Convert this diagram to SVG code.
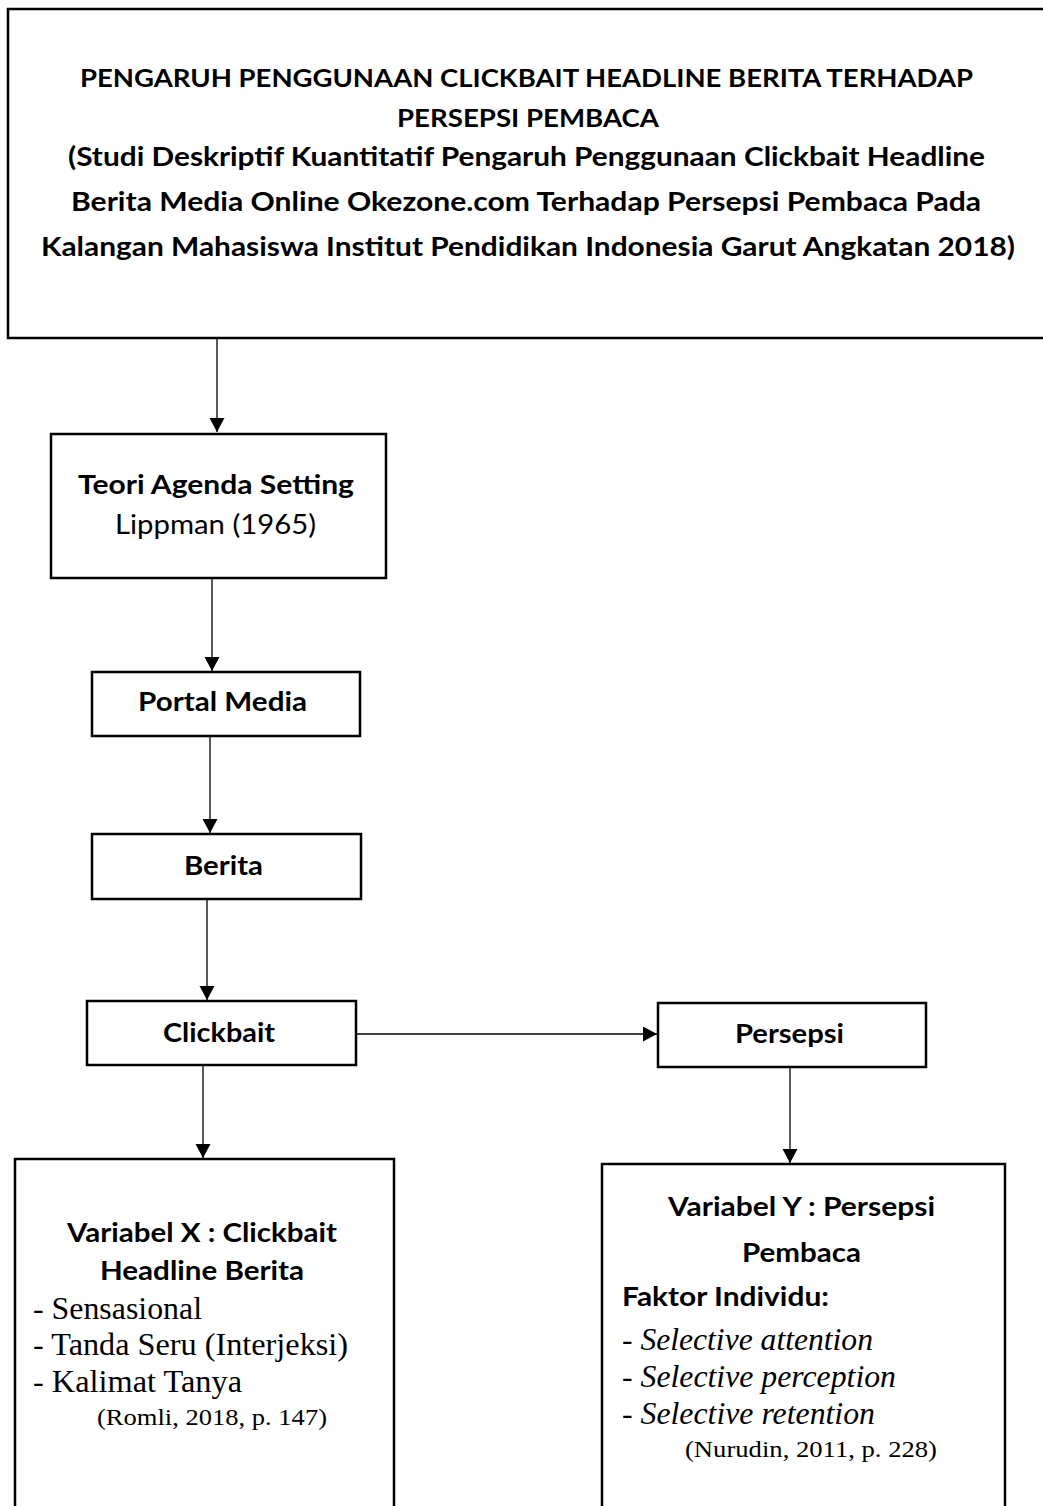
<svg xmlns="http://www.w3.org/2000/svg" width="1043" height="1506" viewBox="0 0 1043 1506">
<defs>
<style>
.box{fill:#fff;stroke:#000;stroke-width:2.5}
.con{stroke:#000;stroke-width:1.3;fill:none}
.b{font-family:Lato,"Open Sans","Liberation Sans",sans-serif;font-weight:bold;fill:#000}
.r{font-family:Lato,"Open Sans","Liberation Sans",sans-serif;font-weight:normal;fill:#000}
.s{font-family:"Liberation Serif","Times New Roman",serif;fill:#000}
.i{font-style:italic}
</style>
<marker id="arr" markerUnits="userSpaceOnUse" markerWidth="15" markerHeight="16" refX="14" refY="7.5" orient="auto" viewBox="0 0 15 16">
<path d="M0,0 L14,7.5 L0,15 z" fill="#000"/>
</marker>
</defs>
<rect width="1043" height="1506" fill="#fff"/>
<g id="connectors">
<line class="con" x1="217" y1="338" x2="217" y2="432" marker-end="url(#arr)"/>
<line class="con" x1="212" y1="578" x2="212" y2="671" marker-end="url(#arr)"/>
<line class="con" x1="210" y1="736" x2="210" y2="833" marker-end="url(#arr)"/>
<line class="con" x1="207" y1="899" x2="207" y2="1000" marker-end="url(#arr)"/>
<line class="con" x1="203" y1="1065" x2="203" y2="1158" marker-end="url(#arr)"/>
<line class="con" x1="790" y1="1067" x2="790" y2="1163" marker-end="url(#arr)"/>
<line class="con" x1="356" y1="1034" x2="657" y2="1034" marker-end="url(#arr)"/>
</g>
<g id="title">
<rect class="box" x="8" y="9" width="1050" height="329"/>
<text class="b" font-size="24" x="80" y="87" textLength="893" lengthAdjust="spacingAndGlyphs">PENGARUH PENGGUNAAN CLICKBAIT HEADLINE BERITA TERHADAP</text>
<text class="b" font-size="24" x="397" y="127" textLength="262" lengthAdjust="spacingAndGlyphs">PERSEPSI PEMBACA</text>
<text class="b" font-size="26" x="68" y="166" textLength="917" lengthAdjust="spacingAndGlyphs">(Studi Deskriptif Kuantitatif Pengaruh Penggunaan Clickbait Headline</text>
<text class="b" font-size="26" x="71" y="211" textLength="910" lengthAdjust="spacingAndGlyphs">Berita Media Online Okezone.com Terhadap Persepsi Pembaca Pada</text>
<text class="b" font-size="26" x="41" y="256" textLength="974" lengthAdjust="spacingAndGlyphs">Kalangan Mahasiswa Institut Pendidikan Indonesia Garut Angkatan 2018)</text>
</g>
<g id="teori">
<rect class="box" x="51" y="434" width="335" height="144"/>
<text class="b" font-size="26" x="78" y="494" textLength="276" lengthAdjust="spacingAndGlyphs">Teori Agenda Setting</text>
<text class="r" font-size="26" x="115" y="534" textLength="201" lengthAdjust="spacingAndGlyphs">Lippman (1965)</text>
</g>
<g id="portal">
<rect class="box" x="92" y="672" width="268" height="64"/>
<text class="b" font-size="26" x="138" y="711" textLength="169" lengthAdjust="spacingAndGlyphs">Portal Media</text>
</g>
<g id="berita">
<rect class="box" x="92" y="834" width="269" height="65"/>
<text class="b" font-size="26" x="184" y="875" textLength="79" lengthAdjust="spacingAndGlyphs">Berita</text>
</g>
<g id="clickbait">
<rect class="box" x="87" y="1001" width="269" height="64"/>
<text class="b" font-size="26" x="163" y="1042" textLength="112" lengthAdjust="spacingAndGlyphs">Clickbait</text>
</g>
<g id="persepsi">
<rect class="box" x="658" y="1003" width="268" height="64"/>
<text class="b" font-size="26" x="735" y="1043" textLength="109" lengthAdjust="spacingAndGlyphs">Persepsi</text>
</g>
<g id="variabel-x">
<rect class="box" x="15" y="1159" width="379" height="370"/>
<text class="b" font-size="26" x="67" y="1242" textLength="270" lengthAdjust="spacingAndGlyphs">Variabel X : Clickbait</text>
<text class="b" font-size="26" x="100" y="1280" textLength="204" lengthAdjust="spacingAndGlyphs">Headline Berita</text>
<text class="s" font-size="31" x="33" y="1319" textLength="169" lengthAdjust="spacingAndGlyphs">- Sensasional</text>
<text class="s" font-size="31" x="33" y="1355" textLength="315" lengthAdjust="spacingAndGlyphs">- Tanda Seru (Interjeksi)</text>
<text class="s" font-size="31" x="33" y="1392" textLength="209" lengthAdjust="spacingAndGlyphs">- Kalimat Tanya</text>
<text class="s" font-size="24" x="97" y="1425" textLength="230" lengthAdjust="spacingAndGlyphs">(Romli, 2018, p. 147)</text>
</g>
<g id="variabel-y">
<rect class="box" x="602" y="1164" width="403" height="370"/>
<text class="b" font-size="26" x="668" y="1216" textLength="267" lengthAdjust="spacingAndGlyphs">Variabel Y : Persepsi</text>
<text class="b" font-size="26" x="742" y="1262" textLength="119" lengthAdjust="spacingAndGlyphs">Pembaca</text>
<text class="b" font-size="26" x="622" y="1306" textLength="207" lengthAdjust="spacingAndGlyphs">Faktor Individu:</text>
<text class="s" font-size="31" x="622" y="1350" textLength="251" lengthAdjust="spacingAndGlyphs">- <tspan class="i">Selective attention</tspan></text>
<text class="s" font-size="31" x="622" y="1387" textLength="274" lengthAdjust="spacingAndGlyphs">- <tspan class="i">Selective perception</tspan></text>
<text class="s" font-size="31" x="622" y="1424" textLength="253" lengthAdjust="spacingAndGlyphs">- <tspan class="i">Selective retention</tspan></text>
<text class="s" font-size="24" x="685" y="1457" textLength="252" lengthAdjust="spacingAndGlyphs">(Nurudin, 2011, p. 228)</text>
</g>
</svg>
